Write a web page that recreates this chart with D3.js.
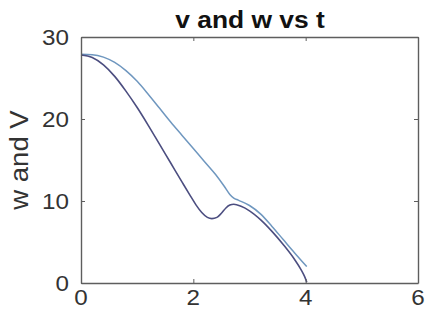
<!DOCTYPE html>
<html>
<head>
<meta charset="utf-8">
<script src="https://cdn.jsdelivr.net/npm/d3@7"></script>
<style>
  body { margin: 0; background: #fff; }
  svg { display: block; }
</style>
</head>
<body>
<main></main>
<script>
// series
const tDark = [0, 0.2, 0.4, 0.6, 0.8, 1.0, 1.2, 1.4, 1.6, 1.8, 1.95, 2.05, 2.15, 2.25, 2.33, 2.42, 2.5, 2.58, 2.65, 2.72, 2.85, 3.0, 3.2, 3.4, 3.6, 3.8, 3.92, 3.98, 4.02];
const vDark = [27.8, 27.5, 26.6, 25.2, 23.4, 21.4, 19.2, 16.9, 14.6, 12.3, 10.6, 9.5, 8.6, 8.0, 7.85, 8.0, 8.5, 9.15, 9.5, 9.6, 9.35, 8.8, 7.7, 6.3, 4.7, 2.9, 1.6, 0.8, 0.1];

const tLight = [0, 0.2, 0.4, 0.6, 0.8, 1.0, 1.2, 1.4, 1.6, 1.8, 2.0, 2.2, 2.4, 2.55, 2.65, 2.72, 2.8, 3.0, 3.2, 3.4, 3.6, 3.8, 4.02];
const wLight = [27.9, 27.85, 27.55, 26.9, 25.9, 24.6, 23.0, 21.3, 19.6, 18.0, 16.4, 14.8, 13.2, 11.8, 10.8, 10.35, 10.1, 9.45, 8.4, 6.9, 5.3, 3.7, 2.0];

const xTicks = [0, 2, 4, 6];
const yTicks = [0, 10, 20, 30];

const chartTitle = 'v and w vs t';
const yLabel = 'w and V';

const WIDTH = 425, HEIGHT = 323;
const margin = { left: 81, right: 7, top: 37, bottom: 40 };
const plotW = WIDTH - margin.left - margin.right;
const plotH = HEIGHT - margin.top - margin.bottom;

const svg = d3.select('main')
  .append('svg')
  .attr('width', WIDTH)
  .attr('height', HEIGHT);

const x = d3.scaleLinear().domain([0, 6]).range([margin.left, margin.left + plotW]);
const y = d3.scaleLinear().domain([0, 30]).range([margin.top + plotH, margin.top]);

const axisColor = '#5e5e5e';
const textColor = '#333';
const tickLen = 4;

// lines first, box drawn over them
const line = d3.line()
  .x(d => x(d[0]))
  .y(d => y(d[1]))
  .curve(d3.curveMonotoneX);

svg.append('path')
  .datum(d3.zip(tLight, wLight))
  .attr('d', line)
  .attr('fill', 'none')
  .attr('stroke', '#6f97bf')
  .attr('stroke-width', 1.5);

svg.append('path')
  .datum(d3.zip(tDark, vDark))
  .attr('d', line)
  .attr('fill', 'none')
  .attr('stroke', '#4c4e80')
  .attr('stroke-width', 1.6);

// axes, ticks pointing inside like matlab
const axBottom = svg.append('g')
  .attr('transform', `translate(0,${margin.top + plotH})`)
  .call(d3.axisBottom(x).tickValues(xTicks).tickSizeInner(-tickLen).tickSizeOuter(0).tickFormat(''));
const axTop = svg.append('g')
  .attr('transform', `translate(0,${margin.top})`)
  .call(d3.axisTop(x).tickValues(xTicks).tickSizeInner(-tickLen).tickSizeOuter(0).tickFormat(''));
const axLeft = svg.append('g')
  .attr('transform', `translate(${margin.left},0)`)
  .call(d3.axisLeft(y).tickValues(yTicks).tickSizeInner(-tickLen).tickSizeOuter(0).tickFormat(''));
const axRight = svg.append('g')
  .attr('transform', `translate(${margin.left + plotW},0)`)
  .call(d3.axisRight(y).tickValues(yTicks).tickSizeInner(-tickLen).tickSizeOuter(0).tickFormat(''));

[axBottom, axTop, axLeft, axRight].forEach(g => {
  g.select('.domain').attr('stroke', axisColor).attr('stroke-width', 1.4);
  g.selectAll('.tick line').attr('stroke', axisColor).attr('stroke-width', 1);
});

// tick labels (picture is a bit stretched horizontally)
const sx = 1.1;
svg.append('g').selectAll('text')
  .data(xTicks)
  .enter()
  .append('text')
  .attr('transform', d => `translate(${x(d)},${margin.top + plotH + 22}) scale(${sx},1)`)
  .attr('text-anchor', 'middle')
  .attr('font-family', 'Liberation Sans, Arial, sans-serif')
  .attr('font-size', 22)
  .attr('fill', textColor)
  .text(d => d);

svg.append('g').selectAll('text')
  .data(yTicks)
  .enter()
  .append('text')
  .attr('transform', d => `translate(${margin.left - 12},${y(d) + 8}) scale(${sx},1)`)
  .attr('text-anchor', 'end')
  .attr('font-family', 'Liberation Sans, Arial, sans-serif')
  .attr('font-size', 22)
  .attr('fill', textColor)
  .text(d => d);

svg.append('text')
  .attr('transform', `translate(250,28) scale(1.1,1)`)
  .attr('text-anchor', 'middle')
  .attr('font-family', 'Liberation Sans, Arial, sans-serif')
  .attr('font-weight', 'bold')
  .attr('font-size', 24)
  .attr('fill', '#111')
  .text(chartTitle);

svg.append('text')
  .attr('transform', `translate(27.5,${margin.top + plotH / 2}) rotate(-90) scale(1.1,1)`)
  .attr('text-anchor', 'middle')
  .attr('font-family', 'Liberation Sans, Arial, sans-serif')
  .attr('font-size', 25)
  .attr('fill', textColor)
  .text(yLabel);
</script>
</body>
</html>
